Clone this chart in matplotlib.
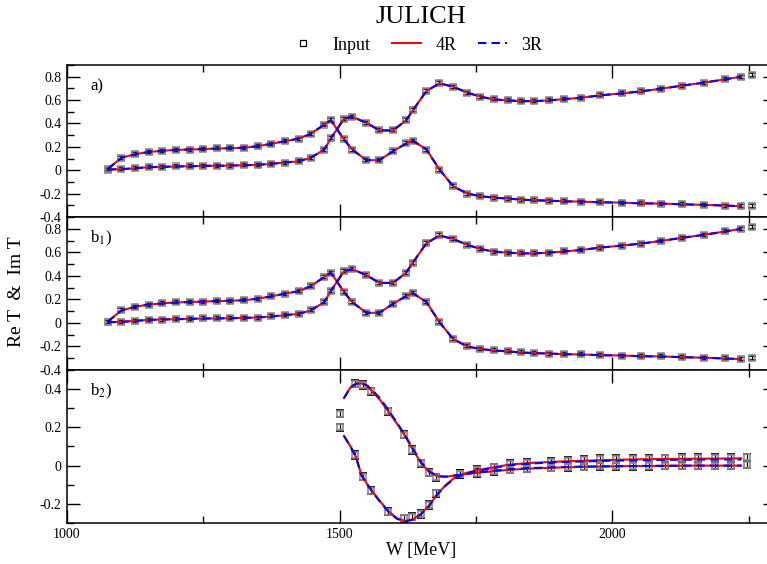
import numpy as np
import matplotlib.pyplot as plt
from matplotlib.lines import Line2D
from matplotlib.ticker import MultipleLocator

plt.rcParams['font.family'] = ['Liberation Serif', 'DejaVu Serif']
plt.rcParams['mathtext.fontset'] = 'stix'

# --- panels a) and b1): input points (energy, two amplitude curves) ---
w_a = [1075, 1100, 1125, 1150, 1175, 1200, 1225, 1250, 1275, 1300, 1325, 1350,
       1375, 1400, 1425, 1447, 1472, 1484, 1508, 1523, 1549, 1573, 1598, 1622,
       1634, 1659, 1683, 1708, 1734, 1758, 1782, 1808, 1832, 1857, 1883, 1912,
       1943, 1977, 2017, 2052, 2089, 2127, 2168, 2206, 2236, 2256]
curve1_a = [0.01, 0.106, 0.137, 0.156, 0.166, 0.174, 0.177, 0.181, 0.186, 0.188,
            0.193, 0.206, 0.226, 0.249, 0.27, 0.311, 0.391, 0.428, 0.263, 0.177,
            0.086, 0.086, 0.163, 0.229, 0.254, 0.177, 0.006, -0.137, -0.2, -0.222,
            -0.234, -0.242, -0.251, -0.257, -0.26, -0.266, -0.268, -0.274, -0.277,
            -0.283, -0.285, -0.291, -0.296, -0.302, -0.308, -0.302]
curve2_a = [0.006, 0.009, 0.017, 0.026, 0.029, 0.032, 0.034, 0.038, 0.038, 0.04,
            0.043, 0.046, 0.055, 0.066, 0.077, 0.106, 0.177, 0.272, 0.44, 0.457,
            0.406, 0.34, 0.34, 0.428, 0.511, 0.677, 0.743, 0.714, 0.663, 0.629,
            0.606, 0.597, 0.591, 0.591, 0.597, 0.608, 0.62, 0.64, 0.657, 0.674,
            0.697, 0.723, 0.749, 0.777, 0.8, 0.814]
err_a = 0.017

# --- panel b2): input points ---
w_b2 = [1500, 1528, 1542, 1558, 1589, 1618, 1633, 1649, 1664, 1677, 1721, 1752,
        1782, 1813, 1843, 1887, 1918, 1947, 1977, 2007, 2037, 2067, 2097, 2127,
        2157, 2188, 2217, 2247]
curve1_b2 = [0.271, 0.428, 0.422, 0.388, 0.283, 0.161, 0.082, 0.012, -0.037, -0.061,
             -0.044, -0.038, -0.03, -0.022, -0.016, -0.01, -0.007, -0.005, -0.004,
             -0.003, -0.002, -0.002, -0.001, -0.001, 0.0, 0.0, 0.0, 0.005]
curve2_b2 = [0.201, 0.056, -0.057, -0.131, -0.241, -0.276, -0.267, -0.253, -0.206,
             -0.145, -0.044, -0.022, -0.009, 0.009, 0.014, 0.02, 0.026, 0.03, 0.034,
             0.034, 0.037, 0.037, 0.039, 0.04, 0.04, 0.04, 0.04, 0.044]
err_b2 = 0.019

# --- panel b2): model curves ---
w_fit_b2 = [1508, 1520, 1530, 1540, 1550, 1560, 1575, 1590, 1605, 1620, 1635, 1650,
            1665, 1680, 1695, 1710, 1730, 1750, 1780, 1810, 1850, 1900, 1950, 2000,
            2050, 2100, 2150, 2200, 2236]
fit4r_c1_b2 = [0.353, 0.41, 0.428, 0.43, 0.415, 0.388, 0.34, 0.28, 0.22, 0.155,
               0.08, 0.01, -0.035, -0.056, -0.058, -0.052, -0.045, -0.038, -0.03,
               -0.022, -0.015, -0.01, -0.006, -0.004, -0.002, -0.001, 0.0, 0.0, 0.0]
fit4r_c2_b2 = [0.155, 0.1, 0.045, -0.05, -0.095, -0.135, -0.19, -0.24, -0.275,
               -0.29, -0.28, -0.25, -0.205, -0.145, -0.1, -0.065, -0.04, -0.025,
               -0.01, 0.005, 0.014, 0.021, 0.026, 0.03, 0.033, 0.035, 0.036, 0.037,
               0.038]
fit3r_c1_b2 = [0.353, 0.41, 0.428, 0.432, 0.42, 0.395, 0.348, 0.288, 0.225, 0.158,
               0.085, 0.015, -0.032, -0.055, -0.058, -0.052, -0.044, -0.036, -0.027,
               -0.02, -0.013, -0.008, -0.005, -0.003, -0.002, -0.001, 0.0, 0.0, 0.0]
fit3r_c2_b2 = [0.155, 0.1, 0.045, -0.05, -0.095, -0.137, -0.193, -0.243, -0.278,
               -0.292, -0.282, -0.252, -0.207, -0.148, -0.103, -0.068, -0.043, -0.028,
               -0.013, 0.002, 0.011, 0.018, 0.022, 0.026, 0.028, 0.03, 0.031, 0.032,
               0.032]

fig = plt.figure(figsize=(7.67, 5.64), dpi=100)
left, width = 0.087, 0.925
ax_a = fig.add_axes([left, 0.6152, width, 0.2696])
ax_b1 = fig.add_axes([left, 0.344, width, 0.2712])
ax_b2 = fig.add_axes([left, 0.0727, width, 0.2713])

red = dict(color='#ff0000', lw=1.5, zorder=3)
blue = dict(color='#0000ff', lw=1.5, ls=(0, (4, 2.5)), zorder=4)
inp = dict(fmt='s', ms=4.5, mfc='none', mec='0.55', mew=1.2, ecolor='black',
           elinewidth=0.9, capsize=2.6, capthick=0.9, zorder=2)


def style(ax, ylo, yhi):
    ax.set_xlim(1000, 2300)
    ax.set_ylim(ylo, yhi)
    ax.xaxis.set_major_locator(MultipleLocator(500))
    ax.xaxis.set_minor_locator(MultipleLocator(250))
    ax.yaxis.set_major_locator(MultipleLocator(0.2))
    ax.yaxis.set_minor_locator(MultipleLocator(0.1))
    ax.tick_params(which='both', direction='in', top=True, right=True, width=1,
                   labelsize=10)
    ax.tick_params(which='major', length=9.4)
    ax.tick_params(which='minor', length=4.8)
    ax.yaxis.set_major_formatter(plt.FuncFormatter(lambda v, p: f'{v:g}'))
    for s in ax.spines.values():
        s.set_linewidth(1.1)


for ax, lab in [(ax_a, 'a)'), (ax_b1, r'b$_1$)')]:
    for y in (curve1_a, curve2_a):
        ax.errorbar(w_a, y, yerr=err_a, **inp)
        ax.plot(w_a[:-1], y[:-1], **red)
        ax.plot(w_a[:-1], y[:-1], **blue)
    style(ax, -0.4, 0.9)
    ax.tick_params(labelbottom=False)
    ax.text(0.033, 0.86, lab, transform=ax.transAxes, fontsize=12, va='center')

for y in (curve1_b2, curve2_b2):
    ax_b2.errorbar(w_b2, y, yerr=err_b2, **inp)
ax_b2.plot(w_fit_b2, fit4r_c1_b2, **red)
ax_b2.plot(w_fit_b2, fit4r_c2_b2, **red)
ax_b2.plot(w_fit_b2, fit3r_c1_b2, **blue)
ax_b2.plot(w_fit_b2, fit3r_c2_b2, **blue)
style(ax_b2, -0.3, 0.5)
ax_b2.text(0.033, 0.86, r'b$_2$)', transform=ax_b2.transAxes, fontsize=12, va='center')
ax_b2.set_xlabel('W [MeV]', fontsize=13, labelpad=1)

fig.text(0.021, 0.482, 'Re T  &  Im T', rotation=90, fontsize=14, ha='center', va='center')
fig.text(0.549, 0.97, 'JULICH', fontsize=19, ha='center', va='center')

handles = [Line2D([], [], marker='s', ls='none', ms=4, mfc='white', mec='black', mew=0.9),
           Line2D([], [], color='#ff0000', lw=1.5),
           Line2D([], [], color='#0000ff', lw=1.5, ls=(0, (4, 2.5)))]
fig.legend(handles, ['Input', '4R', '3R'], loc='center', bbox_to_anchor=(0.542, 0.92),
           ncol=3, frameon=False, fontsize=13, handlelength=1.6, handletextpad=0.8,
           columnspacing=1.2)

fig.savefig('out.png', dpi=100)
